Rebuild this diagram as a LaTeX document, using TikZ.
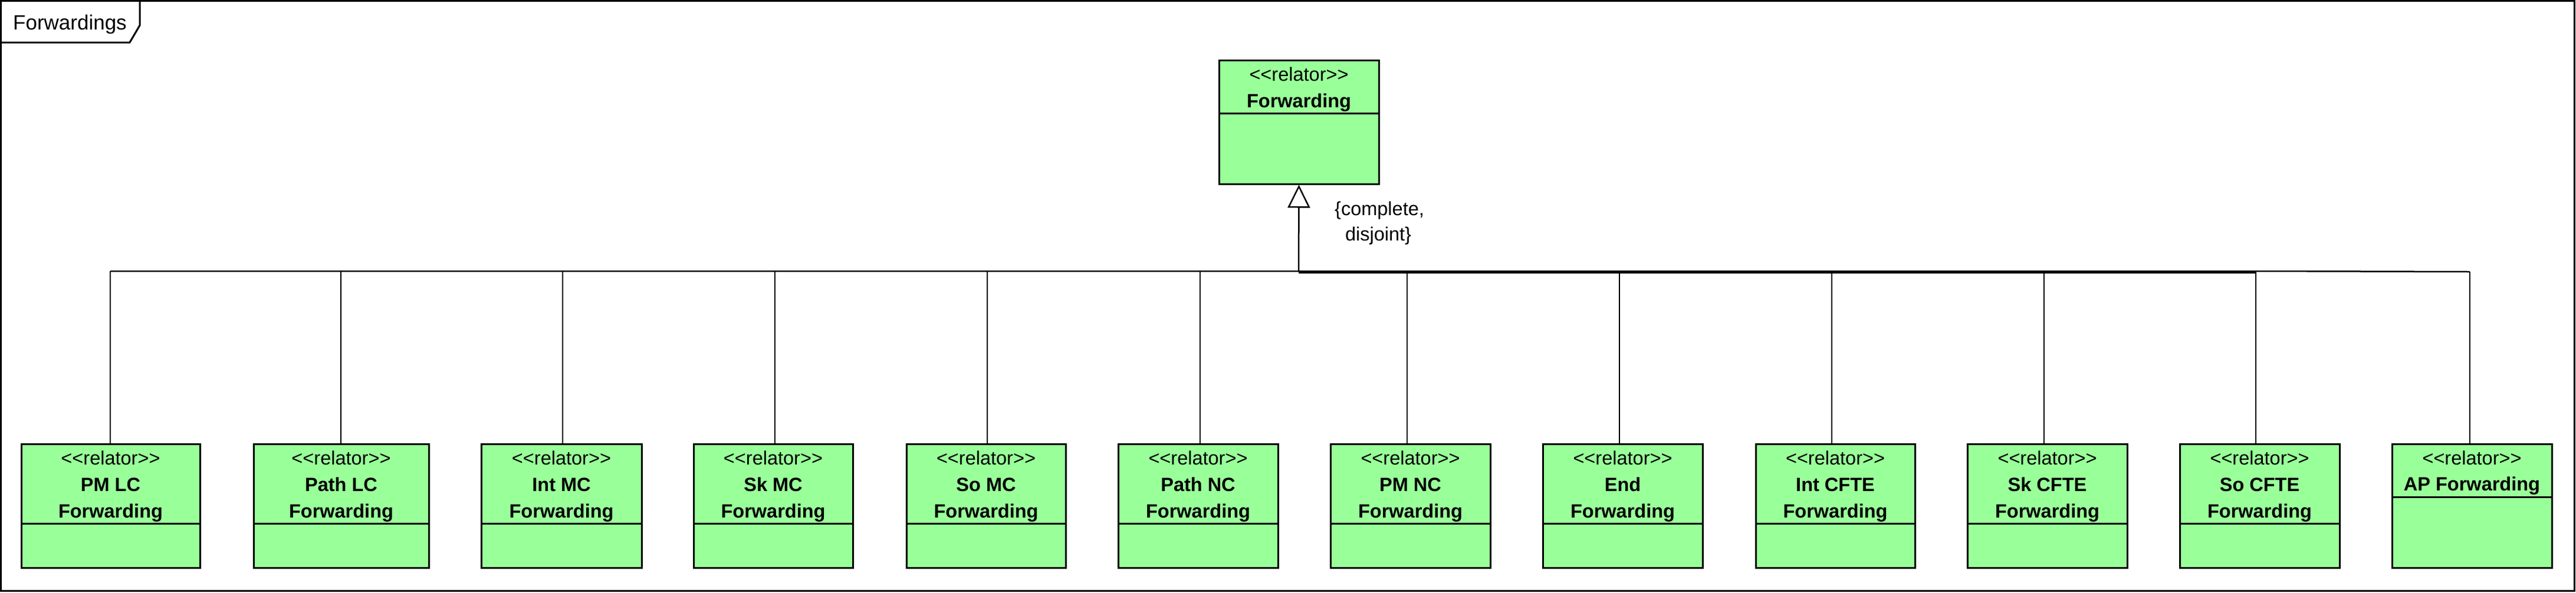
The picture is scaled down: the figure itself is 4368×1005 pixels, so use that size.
\documentclass[tikz,border=0pt]{standalone}
\usepackage{fontspec}
\setmainfont{Liberation Sans}
\usetikzlibrary{arrows.meta}
\definecolor{relgreen}{RGB}{153,255,153}
\begin{document}
\begin{tikzpicture}[x={(1pt,0)},y={(0,-1pt)},
  relbox/.style={draw=black,line width=3pt,fill=relgreen,inner sep=0pt,minimum height=210pt},
  boxline/.style={draw=black,line width=3pt},
  conn/.style={draw=black,line width=2.5pt},
  stereo/.style={anchor=base,inner sep=0pt,font=\fontsize{32.5}{39}\selectfont},
  cname/.style={anchor=base,inner sep=0pt,font=\fontsize{32.5}{39}\selectfont\bfseries},
  note/.style={anchor=base,inner sep=0pt,font=\fontsize{32.5}{39}\selectfont}]
\useasboundingbox (0,0) rectangle (4368,1005);
% frame
\draw[line width=3pt] (1.5,1.5) rectangle (4365.5,1002);
\draw[line width=3pt,line join=miter] (1.5,72) -- (220,72) -- (237,43) -- (237,1.5);
\node[anchor=base west,inner sep=0pt,font=\fontsize{35}{42}\selectfont] (title) at (22,50) {Forwardings};
% superclass
\node[relbox,minimum width=271pt] (F) at (2202.5,207) {};
\draw[boxline] (2067,192) -- (2338,192);
\node[stereo] (Fs) at (2202.5,137) {<{}<relator>{}>};
\node[cname] (Fn) at (2202.5,182) {Forwarding};
% subclasses
\foreach \i/\xa/\xb/\cx/\nm in {1/36/339/187/PM LC,2/430/727/578/Path LC,3/816/1088/954/Int MC,4/1176/1446/1314/Sk MC,5/1537/1807/1674/So MC,6/1896/2167/2035/Path NC,7/2256/2527/2386/PM NC,8/2616/2887/2746/End,9/2977/3247/3106/Int CFTE,10/3336/3607/3466/Sk CFTE,11/3696/3967/3825/So CFTE}{
  \pgfmathsetmacro{\bw}{\xb-\xa}
  \pgfmathsetmacro{\mx}{(\xa+\xb)/2}
  \node[relbox,minimum width=\bw pt] (b\i) at (\mx,858) {};
  \draw[boxline] (\xa,888) -- (\xb,888);
  \node[stereo] (s\i) at (\mx,788) {<{}<relator>{}>};
  \node[cname] (n\i) at (\mx,833) {\nm};
  \node[cname] (f\i) at (\mx,878) {Forwarding};
  \coordinate (c\i) at (\cx,460);
  \draw[conn] (c\i) -- (c\i |- b\i.north);
}
\node[relbox,minimum width=271pt] (b12) at (4191.5,858) {};
\draw[boxline] (4056,843) -- (4327,843);
\node[stereo] (s12) at (4191.5,788) {<{}<relator>{}>};
\node[cname] (n12) at (4191.5,832) {AP Forwarding};
\coordinate (c12) at (4188,461);
\draw[conn] (c12) -- (c12 |- b12.north);
% generalization set
\draw[conn] (c1) -- (c11) -- (c12);
\coordinate (gbus) at (2202,462.5);
\draw[conn] (gbus) -- (c11 |- gbus);
\coordinate (gstem) at (2202,460);
\draw[conn,-{Triangle[open,length=39pt,width=38pt]}] (gstem) -- (F.south);
\node[note] (gs1) at (2339,365) {\{complete,};
\node[note] (gs2) at (2337,408) {disjoint\}};
\end{tikzpicture}
\end{document}
